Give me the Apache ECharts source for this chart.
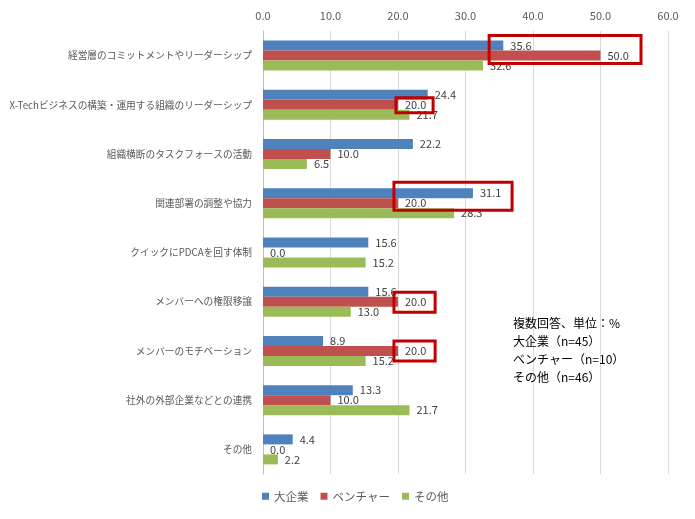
<!DOCTYPE html>
<html>
<head>
<meta charset="utf-8">
<script src="https://cdn.jsdelivr.net/npm/echarts@6/dist/echarts.min.js"></script>
<style>
  html, body { margin: 0; padding: 0; background: #fff; }
  #chart { width: 695px; height: 519px; }
</style>
</head>
<body>
<div id="chart"></div>
<script>
var categories = [
  '経営層のコミットメントやリーダーシップ',
  'X-Techビジネスの構築・運用する組織のリーダーシップ',
  '組織横断のタスクフォースの活動',
  '関連部署の調整や協力',
  'クイックにPDCAを回す体制',
  'メンバーへの権限移譲',
  'メンバーのモチベーション',
  '社外の外部企業などとの連携',
  'その他'
];
var seriesNames = ['大企業', 'ベンチャー', 'その他'];
var largeCorp = [35.6, 24.4, 22.2, 31.1, 15.6, 15.6, 8.9, 13.3, 4.4];
var venture   = [50.0, 20.0, 10.0, 20.0, 0.0, 20.0, 20.0, 10.0, 0.0];
var others    = [32.6, 21.7, 6.5, 28.3, 15.2, 13.0, 15.2, 21.7, 2.2];
var noteLines = ['複数回答、単位：%', '大企業（n=45）', 'ベンチャー（n=10）', 'その他（n=46）'];

var font = '"Noto Sans CJK JP", "Noto Sans", sans-serif';
var colors = ['#4F81BD', '#C0504D', '#9BBB59'];

var chart = echarts.init(document.getElementById('chart'));

function barSeries(name, data) {
  return {
    name: name,
    type: 'bar',
    data: data,
    barWidth: 10,
    barGap: '0%',
    label: {
      show: true,
      position: 'right',
      distance: 7,
      color: '#404040',
      fontSize: 11,
      fontFamily: font,
      formatter: function (p) { return p.value.toFixed(1); }
    }
  };
}

chart.setOption({
  color: colors,
  animation: false,
  textStyle: { fontFamily: font },
  grid: { left: 263, right: 27, top: 31, bottom: 45, containLabel: false, outerBoundsMode: 'none' },
  legend: {
    bottom: 12,
    left: 257,
    itemWidth: 7,
    itemHeight: 7,
    itemGap: 12,
    icon: 'rect',
    textStyle: { color: '#595959', fontSize: 11.5, fontFamily: font },
    data: seriesNames
  },
  xAxis: {
    type: 'value',
    position: 'top',
    min: 0,
    max: 60,
    interval: 10,
    axisLine: { show: false },
    axisTick: { show: false },
    axisLabel: {
      color: '#595959',
      fontSize: 11,
      margin: 10,
      formatter: function (v) { return v.toFixed(1); }
    },
    splitLine: { lineStyle: { color: '#D9D9D9' } }
  },
  yAxis: {
    type: 'category',
    inverse: true,
    data: categories,
    axisLine: { lineStyle: { color: '#BFBFBF' } },
    axisTick: { show: false },
    axisLabel: { color: '#595959', fontSize: 9.7, margin: 11 }
  },
  series: [
    barSeries(seriesNames[0], largeCorp),
    barSeries(seriesNames[1], venture),
    barSeries(seriesNames[2], others)
  ]
});

// red highlight boxes around specific labels, placed via the chart's own scales
var highlights = [
  { cat: 0, from: 33.5, to: 56, up: 20, down: 8 },
  { cat: 1, from: 19.7, to: 25.2, up: 7, down: 8 },
  { cat: 3, from: 19.4, to: 36.9, up: 21, down: 7 },
  { cat: 5, from: 19.4, to: 25.5, up: 9.5, down: 10.5 },
  { cat: 6, from: 19.4, to: 25.5, up: 10, down: 10 }
];
var graphics = highlights.map(function (h) {
  var cy = chart.convertToPixel({ yAxisIndex: 0 }, h.cat);
  var x0 = chart.convertToPixel({ xAxisIndex: 0 }, h.from);
  var x1 = chart.convertToPixel({ xAxisIndex: 0 }, h.to);
  return {
    type: 'rect',
    shape: { x: x0, y: cy - h.up, width: x1 - x0, height: h.up + h.down },
    style: { fill: 'none', stroke: '#C00000', lineWidth: 3 },
    z: 100
  };
});
graphics.push({
  type: 'text',
  left: 513,
  top: 314,
  style: {
    text: noteLines.join('\n'),
    fill: '#000',
    font: '12px ' + font,
    lineHeight: 18
  },
  z: 100
});
chart.setOption({ graphic: graphics });
</script>
</body>
</html>
